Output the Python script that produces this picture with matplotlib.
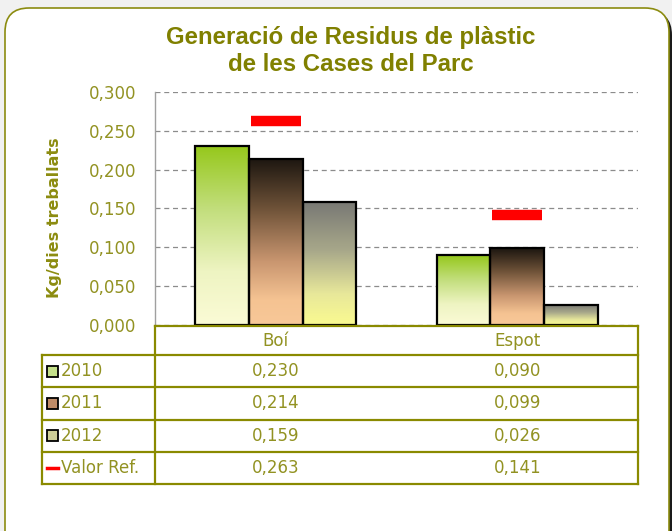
import numpy as np
import matplotlib
matplotlib.use('Agg')
import matplotlib.pyplot as plt
from matplotlib.colors import LinearSegmentedColormap
from matplotlib.patches import FancyBboxPatch, Rectangle
from matplotlib.lines import Line2D
from matplotlib.ticker import FuncFormatter
import matplotlib.transforms as mtransforms

# dades: kg per dia treballat
categories = ['Boí', 'Espot']
series_names = ['2010', '2011', '2012']
v2010 = [0.230, 0.090]
v2011 = [0.214, 0.099]
v2012 = [0.159, 0.026]
valor_ref = [0.263, 0.141]
ref_name = 'Valor Ref.'

W, H = 672, 531
OLIVE = '#8a8a00'
TXT = '#929222'

fig = plt.figure(figsize=(W / 100, H / 100), dpi=100)
fig.patch.set_facecolor('#f1f1f1')


def fx(x):
    return x / W


def fy(y):
    return 1 - y / H


# marc arrodonit amb ombra
shadow = FancyBboxPatch((fx(8), fy(560)), fx(664), (560 - 11) / H,
                        boxstyle='round,pad=0,rounding_size=%f' % fx(24),
                        mutation_aspect=W / H, transform=fig.transFigure,
                        facecolor='#1a1a1a', edgecolor='none', zorder=0)
frame = FancyBboxPatch((fx(5), fy(557)), fx(664), (557 - 8) / H,
                       boxstyle='round,pad=0,rounding_size=%f' % fx(24),
                       mutation_aspect=W / H, transform=fig.transFigure,
                       facecolor='white', edgecolor='#8c8c10', linewidth=1.2, zorder=0)
fig.add_artist(shadow)
fig.add_artist(frame)

ax = fig.add_axes([fx(155), fy(325), fx(483), (325 - 92) / H])
ax.set_facecolor('none')

cmaps = [
    LinearSegmentedColormap.from_list('c2010', [(0, '#96c81c'), (0.35, '#c2de7c'),
                                                (0.7, '#eef4c2'), (1, '#fbfbd6')]),
    LinearSegmentedColormap.from_list('c2011', [(0, '#1c1610'), (0.3, '#6e5238'),
                                                (0.62, '#c99670'), (0.85, '#f5c392'),
                                                (1, '#f8c898')]),
    LinearSegmentedColormap.from_list('c2012', [(0, '#787874'), (0.4, '#a8a88a'),
                                                (0.75, '#e8e89a'), (1, '#fafa90')]),
]
legend_cols = ['#c4e08a', '#c08c68', '#cfcf98']

x = np.arange(len(categories))
bw = 0.222
grad = np.linspace(0, 1, 256).reshape(-1, 1)
for i, vals in enumerate([v2010, v2011, v2012]):
    xs = x + (i - 1) * bw
    for xc, v in zip(xs, vals):
        ax.imshow(grad, cmap=cmaps[i], extent=(xc - bw / 2, xc + bw / 2, 0, v),
                  aspect='auto', origin='upper', zorder=2)
    ax.bar(xs, vals, width=bw, facecolor='none', edgecolor='black',
           linewidth=1.6, zorder=3)

# valor de referència
ax.hlines(valor_ref, x - 0.104, x + 0.104, color='#ff0000', linewidth=7.5, zorder=4)

ax.set_xlim(-0.5, 1.5)
ax.set_ylim(0, 0.3)
ax.set_yticks(np.arange(0, 0.301, 0.05))
ax.yaxis.set_major_formatter(FuncFormatter(lambda v, p: f'{v:.3f}'.replace('.', ',')))
ax.set_xticks([])
ax.tick_params(axis='y', length=0, pad=13.5, labelsize=12, labelcolor=TXT)
ax.yaxis.grid(True, linestyle=(0, (4, 3)), color='#8c8c8c', linewidth=0.9, zorder=1)
ax.set_axisbelow(True)
for s in ['top', 'right', 'bottom']:
    ax.spines[s].set_visible(False)
ax.spines['left'].set_color('#a0a0a0')
ax.spines['left'].set_linewidth(1)

ax.set_ylabel('Kg/dies treballats', fontsize=11.5, fontweight='bold', color='#8c8c10')
ax.yaxis.set_label_coords((62 - 155) / 483, (325 - 218) / 233)

fig.text(fx(351), fy(51), 'Generació de Residus de plàstic\nde les Cases del Parc',
         ha='center', va='center', fontsize=17.3, fontweight='bold', color='#808000',
         family='Liberation Sans', linespacing=1.2)

# taula de dades sota el gràfic
def hline(y, x0, x1):
    fig.add_artist(Line2D([fx(x0), fx(x1)], [fy(y), fy(y)], color=OLIVE,
                          linewidth=1.6, transform=fig.transFigure, zorder=5))


def vline(xp, y0, y1):
    fig.add_artist(Line2D([fx(xp), fx(xp)], [fy(y0), fy(y1)], color=OLIVE,
                          linewidth=1.6, transform=fig.transFigure, zorder=5))


row_edges = [355, 387, 419.5, 452, 484]
hline(326, 155, 638)
for y in row_edges:
    hline(y, 42, 638)
vline(42, 355, 484)
vline(155, 326, 484)
vline(638, 326, 484)

tr = mtransforms.blended_transform_factory(ax.transData, fig.transFigure)
for xc, c in zip(x, categories):
    fig.text(xc, fy(341), c, transform=tr, ha='center', va='center',
             fontsize=12, color=TXT)

rows = [v2010, v2011, v2012, valor_ref]
names = series_names + [ref_name]
for r, (vals, name) in enumerate(zip(rows, names)):
    yc = (row_edges[r] + row_edges[r + 1]) / 2
    for xc, v in zip(x, vals):
        fig.text(xc, fy(yc), f'{v:.3f}'.replace('.', ','), transform=tr,
                 ha='center', va='center', fontsize=12, color=TXT)
    fig.text(fx(61), fy(yc), name, ha='left', va='center', fontsize=12, color=TXT)
    if r < 3:
        fig.add_artist(Rectangle((fx(47), fy(yc + 5.5)), fx(11), 11 / H,
                                 facecolor=legend_cols[r], edgecolor='black',
                                 linewidth=1.3, transform=fig.transFigure, zorder=6))
    else:
        fig.add_artist(Line2D([fx(47), fx(58)], [fy(yc), fy(yc)], color='#ff0000',
                              linewidth=2.5, transform=fig.transFigure, zorder=6))

fig.savefig('out.png', dpi=100, facecolor=fig.get_facecolor())
